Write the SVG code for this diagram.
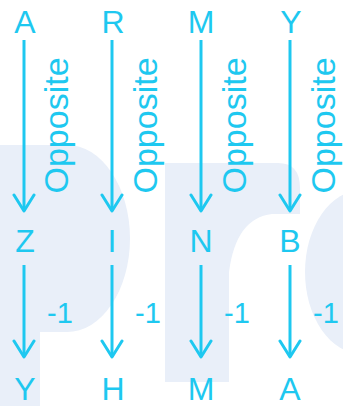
<svg xmlns="http://www.w3.org/2000/svg" width="343" height="406" viewBox="0 0 343 406">
  <style>
    .wm { fill: #e9eff9; }
    .lt { font-family: "Liberation Sans", Arial, sans-serif; font-size: 32px; fill: #1ec8f0; text-anchor: middle; }
    .op { font-family: "Liberation Sans", Arial, sans-serif; font-size: 34px; fill: #1ec8f0; text-anchor: middle; }
    .m1 { font-family: "Liberation Sans", Arial, sans-serif; font-size: 29px; fill: #1ec8f0; }
    .ar { stroke: #1ec8f0; stroke-width: 3; fill: none; marker-end: url(#ah); }
  </style>
  <defs>
    <marker id="ah" markerUnits="userSpaceOnUse" orient="auto" markerWidth="24" markerHeight="24" viewBox="-20 -12 24 24" refX="0" refY="0">
      <path d="M-16,-10 L0,0 L-16,10" fill="none" stroke="#1ec8f0" stroke-width="3" stroke-linecap="round" stroke-linejoin="round"/>
    </marker>
  </defs>
  <rect width="343" height="406" fill="#ffffff"/>
  <g id="watermark">
    <path class="wm" d="M0,145 H67 A63,93.5 0 0 1 67,332 H40 V406 H0 Z"/>
    <path class="wm" d="M165,163 H278 Q300,163 300,188 V214 H272 Q236,218 229,272 V382 H165 Z"/>
    <ellipse class="wm" cx="362" cy="272" rx="57" ry="82"/>
  </g>
  <g id="connectors">
    <line class="ar" x1="24" y1="40" x2="24" y2="211"/>
    <line class="ar" x1="112" y1="40" x2="112" y2="211"/>
    <line class="ar" x1="201" y1="40" x2="201" y2="211"/>
    <line class="ar" x1="290" y1="40" x2="290" y2="211"/>
    <line class="ar" x1="24" y1="265" x2="24" y2="357"/>
    <line class="ar" x1="112" y1="265" x2="112" y2="357"/>
    <line class="ar" x1="201" y1="265" x2="201" y2="357"/>
    <line class="ar" x1="290" y1="265" x2="290" y2="357"/>
    <text class="op" transform="translate(68,125.5) rotate(-90)">Opposite</text>
    <text class="op" transform="translate(157,125.5) rotate(-90)">Opposite</text>
    <text class="op" transform="translate(246,125.5) rotate(-90)">Opposite</text>
    <text class="op" transform="translate(335,125.5) rotate(-90)">Opposite</text>
    <text class="m1" x="47" y="323">-1</text>
    <text class="m1" x="135" y="323">-1</text>
    <text class="m1" x="224" y="323">-1</text>
    <text class="m1" x="313" y="323">-1</text>
  </g>
  <g id="node-A1"><text class="lt" x="25" y="33">A</text></g>
  <g id="node-R"><text class="lt" x="113" y="33">R</text></g>
  <g id="node-M1"><text class="lt" x="201" y="33">M</text></g>
  <g id="node-Y1"><text class="lt" x="291" y="33">Y</text></g>
  <g id="node-Z"><text class="lt" x="25" y="252">Z</text></g>
  <g id="node-I"><text class="lt" x="112" y="252">I</text></g>
  <g id="node-N"><text class="lt" x="201" y="252">N</text></g>
  <g id="node-B"><text class="lt" x="290" y="252">B</text></g>
  <g id="node-Y2"><text class="lt" x="25" y="400">Y</text></g>
  <g id="node-H"><text class="lt" x="113" y="400">H</text></g>
  <g id="node-M2"><text class="lt" x="201" y="400">M</text></g>
  <g id="node-A2"><text class="lt" x="290" y="400">A</text></g>
</svg>
